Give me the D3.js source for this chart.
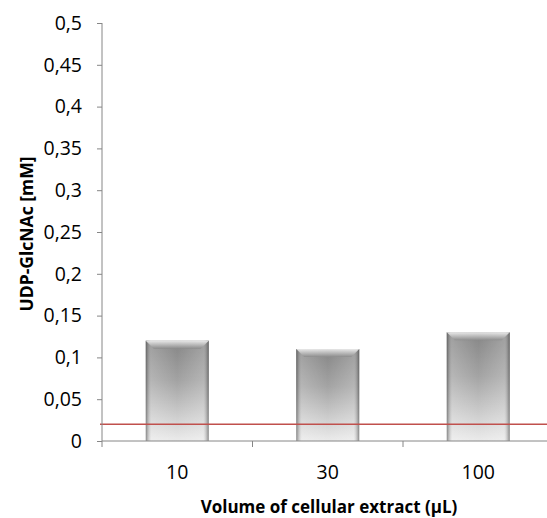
<!DOCTYPE html>
<html>
<head>
<meta charset="utf-8">
<script src="https://cdn.jsdelivr.net/npm/d3@7"></script>
<style>
  html, body { margin: 0; padding: 0; background: #fff; }
  svg text { font-family: "Open Sans", "Noto Sans", sans-serif; fill: #000; }
</style>
</head>
<body>
<svg id="chart" width="547" height="518"></svg>
<script>
// Measured UDP-GlcNAc concentration per extract volume
const categories = ["10", "30", "100"];
const values = [0.12, 0.11, 0.13];
const threshold = 0.02;
const yTicks = [0, 0.05, 0.1, 0.15, 0.2, 0.25, 0.3, 0.35, 0.4, 0.45, 0.5];

const svg = d3.select("#chart");
const axisX = 102;
const plotTop = 23;
const plotBottom = 441;
const tickFont = "19.5px";

const x = d3.scaleBand()
  .domain(categories)
  .range([axisX, axisX + 3 * 150.5]);

const y = d3.scaleLinear().domain([0, 0.5]).range([plotBottom, plotTop]);

const fmt = v => String(v).replace(".", ",");

// gradients for the bevelled bar look
const defs = svg.append("defs");
const vg = defs.append("linearGradient").attr("id", "barV")
  .attr("x1", 0).attr("y1", 0).attr("x2", 0).attr("y2", 1);
vg.append("stop").attr("offset", "0%").attr("stop-color", "#858585");
vg.append("stop").attr("offset", "40%").attr("stop-color", "#a3a3a3");
vg.append("stop").attr("offset", "100%").attr("stop-color", "#ebebeb");
const hg = defs.append("linearGradient").attr("id", "barH")
  .attr("x1", 0).attr("y1", 0).attr("x2", 1).attr("y2", 0);
hg.append("stop").attr("offset", "0%").attr("stop-color", "#444").attr("stop-opacity", 0.6);
hg.append("stop").attr("offset", "9%").attr("stop-color", "#fff").attr("stop-opacity", 0.2);
hg.append("stop").attr("offset", "50%").attr("stop-color", "#fff").attr("stop-opacity", 0.0);
hg.append("stop").attr("offset", "91%").attr("stop-color", "#fff").attr("stop-opacity", 0.2);
hg.append("stop").attr("offset", "100%").attr("stop-color", "#444").attr("stop-opacity", 0.6);
const tg = defs.append("linearGradient").attr("id", "barTop")
  .attr("x1", 0).attr("y1", 0).attr("x2", 0).attr("y2", 1);
tg.append("stop").attr("offset", "0%").attr("stop-color", "#f6f6f6");
tg.append("stop").attr("offset", "100%").attr("stop-color", "#8a8a8a");

const barW = 63;
const bars = svg.append("g");
categories.forEach((c, i) => {
  const cx = x(c) + x.bandwidth() / 2;
  const x0 = cx - barW / 2;
  const y0 = y(values[i]);
  const h = y(0) - y0;
  bars.append("rect").attr("x", x0).attr("y", y0).attr("width", barW).attr("height", h)
    .attr("fill", "url(#barV)");
  bars.append("rect").attr("x", x0).attr("y", y0).attr("width", barW).attr("height", h)
    .attr("fill", "url(#barH)");
  // top bevel
  const b = 8;
  bars.append("path")
    .attr("d", `M${x0},${y0} L${x0 + barW},${y0} L${x0 + barW - b},${y0 + b} L${x0 + b},${y0 + b} Z`)
    .attr("fill", "url(#barTop)").attr("opacity", 0.85);
});

// reference line
svg.append("line")
  .attr("x1", axisX - 2).attr("x2", 547)
  .attr("y1", y(threshold)).attr("y2", y(threshold))
  .attr("stroke", "#c0504d").attr("stroke-width", 1.5);

// y axis: line and tick marks from d3.axisLeft; numbers drawn as separate labels
const yAxis = svg.append("g").attr("transform", `translate(${axisX},0)`)
  .call(d3.axisLeft(y).tickValues(yTicks).tickFormat("").tickSize(5));
yAxis.select(".domain").attr("stroke", "#868686").attr("d", `M0,${plotTop}V${plotBottom}`);
yAxis.selectAll(".tick line").attr("stroke", "#868686");

svg.append("g").selectAll("text.ylab").data(yTicks).enter().append("text")
  .attr("class", "ylab")
  .attr("x", axisX - 20)
  .attr("y", d => y(d))
  .attr("dy", "0.35em")
  .attr("text-anchor", "end")
  .style("font-size", tickFont)
  .text(fmt);

// x axis
const xAxis = svg.append("g").attr("transform", `translate(0,${plotBottom})`)
  .call(d3.axisBottom(x).tickSize(0).tickFormat(""));
xAxis.select(".domain").attr("stroke", "#868686").attr("d", `M${axisX},0H547`);
const boundaries = categories.map(c => x(c));
xAxis.selectAll(".bound").data(boundaries).enter().append("line")
  .attr("x1", d => d).attr("x2", d => d).attr("y1", 0).attr("y2", 6)
  .attr("stroke", "#868686");

svg.append("g").selectAll("text.xlab").data(categories).enter().append("text")
  .attr("class", "xlab")
  .attr("x", d => x(d) + x.bandwidth() / 2)
  .attr("y", 479)
  .attr("text-anchor", "middle")
  .style("font-size", tickFont)
  .text(d => d);

// axis titles
svg.append("text")
  .attr("x", 329).attr("y", 513)
  .attr("text-anchor", "middle")
  .style("font-size", "17px").style("font-weight", "bold")
  .text("Volume of cellular extract (µL)");

svg.append("text")
  .attr("transform", "translate(33,234) rotate(-90)")
  .attr("text-anchor", "middle")
  .style("font-size", "17.5px").style("font-weight", "bold")
  .text("UDP-GlcNAc [mM]");
</script>
</body>
</html>
